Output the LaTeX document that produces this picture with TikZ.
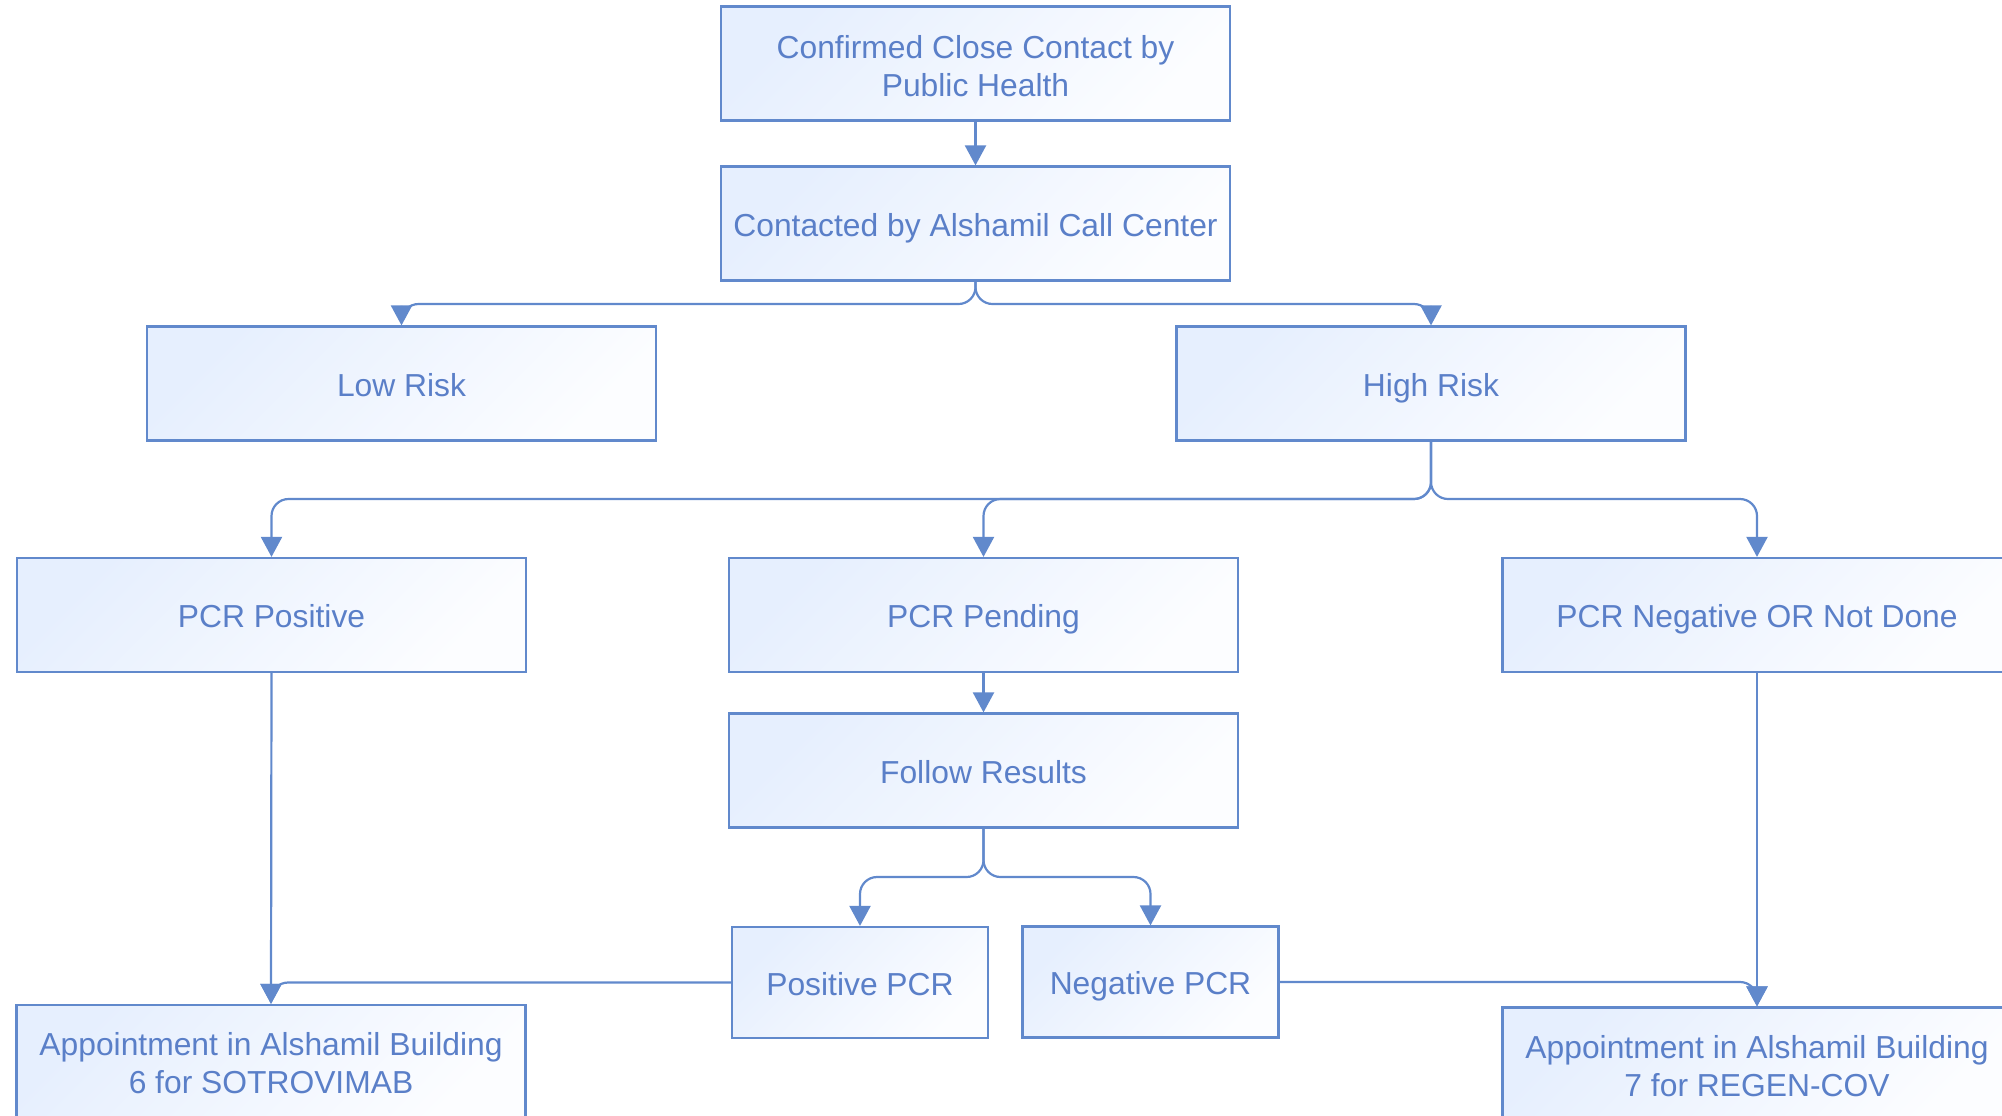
\documentclass[tikz,border=0pt]{standalone}
\usepackage{fontspec}
\setmainfont{Liberation Sans}
\usetikzlibrary{arrows.meta}
\definecolor{strokec}{RGB}{97,137,204}
\definecolor{textc}{RGB}{90,127,200}
\definecolor{fillA}{RGB}{230,239,254}
\definecolor{fillB}{RGB}{252,253,255}
\begin{document}
\begin{tikzpicture}[x=0.5pt,y=-0.5pt,
  box/.style={draw=strokec, line width=1.1pt, top color=fillA, bottom color=fillB, shading angle=45,
    minimum width=254.5pt, minimum height=57pt, inner sep=0pt, text=textc,
    font=\fontsize{15.9}{19.2}\selectfont, align=center},
  onebox/.style={box, text height=12.6pt, text depth=0pt},
  smallbox/.style={onebox, minimum width=128pt, minimum height=55.5pt},
  conn/.style={draw=strokec, line width=1.1pt, rounded corners=8.5pt,
    -{Triangle[length=10pt,width=10.5pt]}}]
\useasboundingbox (0,0) rectangle (2002,1115);
\clip (0,0) rectangle (2002,1115);

\node[box] (top) at (975.5,63.5) {\rule{0pt}{14.2pt}Confirmed Close Contact by\\Public Health};
\node[onebox] (call) at (975.5,223.5) {Contacted by Alshamil Call Center};
\node[onebox] (low) at (401.5,383.5) {Low Risk};
\node[onebox] (high) at (1431,383.5) {High Risk};
\node[onebox] (ppos) at (271.5,615) {PCR Positive};
\node[onebox] (ppend) at (983.5,615) {PCR Pending};
\node[onebox] (pneg) at (1757,615) {PCR Negative OR Not Done};
\node[onebox] (follow) at (983.5,770.5) {Follow Results};
\node[smallbox] (pospcr) at (860,982.5) {Positive PCR};
\node[smallbox] (negpcr) at (1150.5,982) {Negative PCR};
\node[box] (a6) at (271,1062) {\rule{0pt}{12.9pt}Appointment in Alshamil Building\\6 for SOTROVIMAB};
\node[box] (a7) at (1757,1064.5) {\rule{0pt}{12.9pt}Appointment in Alshamil Building\\7 for REGEN-COV};

\coordinate (j1) at (975.5,304);
\coordinate (j2) at (1431,499);
\coordinate (j3) at (983.5,877);

\draw[conn] (top.south) -- (call.north);
\draw[conn] (call.south) -- (j1) -| (low.north);
\draw[conn] (call.south) -- (j1) -| (high.north);
\draw[conn] (high.south) -- (j2) -| (ppos.north);
\draw[conn] (high.south) -- (j2) -| (ppend.north);
\draw[conn] (high.south) -- (j2) -| (pneg.north);
\draw[conn] (ppend.south) -- (follow.north);
\draw[conn] (follow.south) -- (j3) -| (pospcr.north);
\draw[conn] (follow.south) -- (j3) -| (negpcr.north);
\draw[conn] (ppos.south) -- (a6.north);
\draw[conn] (pospcr.west) -| (a6.north);
\draw[conn] (pneg.south) -- (a7.north);
\draw[conn] (negpcr.east) -| (a7.north);
\end{tikzpicture}
\end{document}
